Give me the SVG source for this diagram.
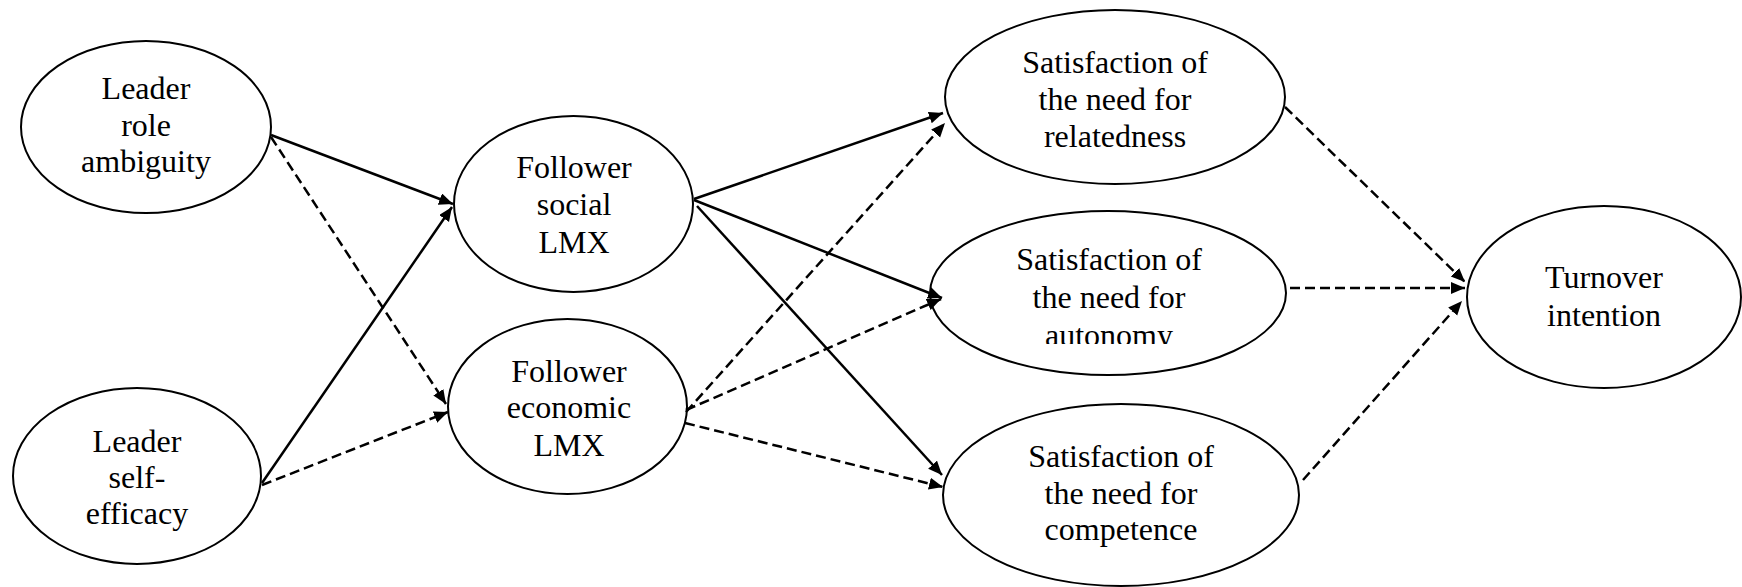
<svg xmlns="http://www.w3.org/2000/svg" width="1742" height="587" viewBox="0 0 1742 587">
<style>
.node ellipse{fill:#fff;stroke:#000;stroke-width:2}
.node text{font-family:"Liberation Serif","Times New Roman",serif;font-size:32px;fill:#000;text-anchor:middle}
.edge{stroke:#000;stroke-width:2.5;fill:none;marker-end:url(#ah)}
.dash{stroke-dasharray:10 5}
</style>
<defs>
<marker id="ah" markerUnits="userSpaceOnUse" markerWidth="15" markerHeight="13" refX="14" refY="6" orient="auto">
<path d="M0,0 L14,6 L0,12 z" fill="#000"/>
</marker>
<clipPath id="clipAut"><rect x="900" y="200" width="400" height="144"/></clipPath>
</defs>
<g id="leader-role-ambiguity" class="node">
<ellipse cx="146" cy="127" rx="125" ry="86"/>
<text x="146" y="99">Leader</text>
<text x="146" y="136">role</text>
<text x="146" y="172">ambiguity</text>
</g>
<g id="leader-self-efficacy" class="node">
<ellipse cx="137" cy="476" rx="124" ry="88"/>
<text x="137" y="452">Leader</text>
<text x="137" y="488">self-</text>
<text x="137" y="524">efficacy</text>
</g>
<g id="follower-social-lmx" class="node">
<ellipse cx="573.5" cy="204" rx="119.5" ry="88"/>
<text x="574" y="178">Follower</text>
<text x="574" y="215">social</text>
<text x="574" y="253">LMX</text>
</g>
<g id="follower-economic-lmx" class="node">
<ellipse cx="567.5" cy="406.5" rx="119.5" ry="87.5"/>
<text x="569" y="382">Follower</text>
<text x="569" y="418">economic</text>
<text x="569" y="456">LMX</text>
</g>
<g id="need-relatedness" class="node">
<ellipse cx="1115" cy="97" rx="170" ry="87"/>
<text x="1115" y="73">Satisfaction of</text>
<text x="1115" y="110">the need for</text>
<text x="1115" y="147">relatedness</text>
</g>
<g id="need-autonomy" class="node">
<ellipse cx="1108" cy="293" rx="178" ry="82"/>
<text x="1109" y="270">Satisfaction of</text>
<text x="1109" y="308">the need for</text>
<text x="1109" y="346" clip-path="url(#clipAut)">autonomy</text>
</g>
<g id="need-competence" class="node">
<ellipse cx="1121" cy="495" rx="178" ry="91"/>
<text x="1121" y="467">Satisfaction of</text>
<text x="1121" y="504">the need for</text>
<text x="1121" y="540">competence</text>
</g>
<g id="turnover-intention" class="node">
<ellipse cx="1604" cy="297" rx="137" ry="91"/>
<text x="1604" y="288">Turnover</text>
<text x="1604" y="326">intention</text>
</g>
<g id="connectors">
<line class="edge" x1="271" y1="135" x2="453" y2="204"/>
<line class="edge dash" x1="271" y1="137" x2="446" y2="404"/>
<line class="edge" x1="262" y1="483" x2="452" y2="207"/>
<line class="edge dash" x1="262" y1="485" x2="448" y2="412"/>
<line class="edge" x1="694" y1="199" x2="943" y2="113"/>
<line class="edge" x1="694" y1="200" x2="942" y2="298"/>
<line class="edge" x1="697" y1="206" x2="942" y2="475"/>
<line class="edge dash" x1="686" y1="412" x2="945" y2="123"/>
<line class="edge dash" x1="686" y1="410" x2="941" y2="299"/>
<line class="edge dash" x1="685" y1="423" x2="943" y2="487"/>
<line class="edge dash" x1="1285" y1="107" x2="1465" y2="282"/>
<line class="edge dash" x1="1290" y1="288" x2="1465" y2="288"/>
<line class="edge dash" x1="1303" y1="480" x2="1462" y2="301"/>
</g>
</svg>
